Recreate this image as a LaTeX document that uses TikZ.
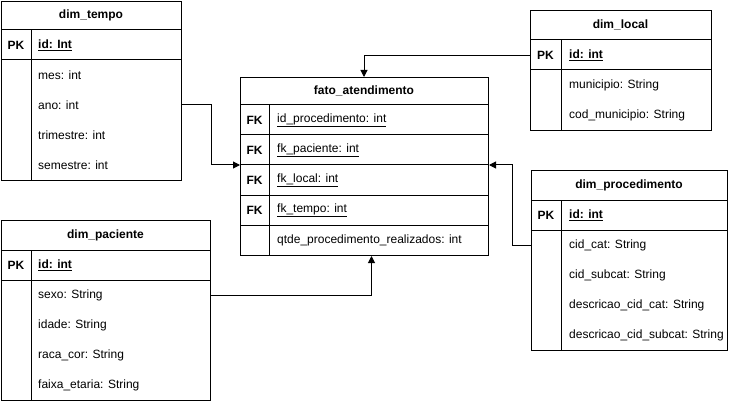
\documentclass[tikz,border=0pt]{standalone}
\usepackage{fontspec}
\setmainfont{Liberation Sans}
\usetikzlibrary{arrows.meta}
\begin{document}
\begin{tikzpicture}[x=1pt,y=-1pt,
  tbl/.style={draw, line width=1pt, inner sep=0pt, anchor=north west},
  sep/.style={line width=1pt},
  ttl/.style={font=\fontsize{12}{14}\selectfont\bfseries, inner sep=0pt},
  keytxt/.style={font=\fontsize{12}{14}\selectfont\bfseries, inner sep=0pt},
  fld/.style={font=\fontsize{12}{14}\selectfont, anchor=west, inner sep=0pt},
  conn/.style={line width=1pt, -{Triangle[length=7pt,width=7pt]}}]
\useasboundingbox (0,0) rectangle (731,401);

% ---------- dim_tempo ----------
\node[tbl, minimum width=180pt, minimum height=179pt] (tempo) at (1,1) {};
\draw[sep] (1,30) -- (181,30);
\draw[sep] (1,60) -- (181,60);
\draw[sep] (31,30) -- (31,180);
\node[ttl] (ttempo) at (91,15.5) {dim\_tempo};
\node[keytxt] (tpk) at (16,45.5) {PK};
\node[fld, font=\fontsize{12}{14}\selectfont\bfseries] (tid) at (38,45.5) {\underline{id: Int}};
\node[fld] (tmes) at (38,75) {mes: int};
\node[fld] (tano) at (38,105) {ano: int};
\node[fld] (ttri) at (38,135) {trimestre: int};
\node[fld] (tsem) at (38,165) {semestre: int};

% ---------- fato_atendimento ----------
\node[tbl, minimum width=248pt, minimum height=178pt] (fato) at (240,77) {};
\foreach \yy in {105,135,165,195,225} \draw[sep] (240,\yy) -- (488,\yy);
\draw[sep] (269,105) -- (269,255);
\node[ttl] (tfato) at (364,91) {fato\_atendimento};
\node[keytxt] (fk1) at (254.5,120.5) {FK};
\node[keytxt] (fk2) at (254.5,150.5) {FK};
\node[keytxt] (fk3) at (254.5,180.5) {FK};
\node[keytxt] (fk4) at (254.5,210.5) {FK};
\node[fld] (fproc) at (277,120.5) {\underline{id\_procedimento: int}};
\node[fld] (fpac) at (277,150.5) {\underline{fk\_paciente: int}};
\node[fld] (floc) at (277,180.5) {\underline{fk\_local: int}};
\node[fld] (ftemp) at (277,210.5) {\underline{fk\_tempo: int}};
\node[fld] (fqtde) at (277,240.5) {qtde\_procedimento\_realizados: int};
\coordinate (fmid) at (364,165);

% ---------- dim_local ----------
\node[tbl, minimum width=181pt, minimum height=120pt] (local) at (530,10) {};
\draw[sep] (530,40) -- (711,40);
\draw[sep] (530,70) -- (711,70);
\draw[sep] (561,40) -- (561,130);
\node[ttl] (tlocal) at (620.5,25) {dim\_local};
\node[keytxt] (lpk) at (545.5,55.5) {PK};
\node[fld, font=\fontsize{12}{14}\selectfont\bfseries] (lid) at (569,55.5) {\underline{id: int}};
\node[fld] (lmun) at (569,85) {municipio: String};
\node[fld] (lcod) at (569,115) {cod\_municipio: String};

% ---------- dim_procedimento ----------
\node[tbl, minimum width=196pt, minimum height=180pt] (proc) at (531,170) {};
\draw[sep] (531,200) -- (727,200);
\draw[sep] (531,230) -- (727,230);
\draw[sep] (561,200) -- (561,350);
\node[ttl] (tproc) at (629,185) {dim\_procedimento};
\node[keytxt] (ppk) at (546,215.5) {PK};
\node[fld, font=\fontsize{12}{14}\selectfont\bfseries] (pid) at (569,215.5) {\underline{id: int}};
\node[fld] (pcat) at (569,245) {cid\_cat: String};
\node[fld] (psub) at (569,275) {cid\_subcat: String};
\node[fld] (pdcat) at (569,305) {descricao\_cid\_cat: String};
\node[fld] (pdsub) at (569,335) {descricao\_cid\_subcat: String};

% ---------- dim_paciente ----------
\node[tbl, minimum width=209pt, minimum height=180pt] (pac) at (1,220) {};
\draw[sep] (1,250) -- (210,250);
\draw[sep] (1,280) -- (210,280);
\draw[sep] (31,250) -- (31,400);
\node[ttl] (tpac) at (105.5,235) {dim\_paciente};
\node[keytxt] (apk) at (16,265.5) {PK};
\node[fld, font=\fontsize{12}{14}\selectfont\bfseries] (aid) at (38,265.5) {\underline{id: int}};
\node[fld] (asex) at (38,295) {sexo: String};
\node[fld] (aida) at (38,325) {idade: String};
\node[fld] (araca) at (38,355) {raca\_cor: String};
\node[fld] (afaixa) at (38,385) {faixa\_etaria: String};

% ---------- connectors ----------
\draw[conn] (tempo.east |- tano) -- ++(29,0) |- (fato.west |- fmid);
\draw[conn] (local.west |- lid) -| ([xshift=0pt]fato.north -| fmid);
\draw[conn] (proc.west |- pcat) -- ++(-19,0) |- (fato.east |- fmid);
\draw[conn] (pac.east |- asex) -| ([xshift=7pt]fato.south);
\end{tikzpicture}
\end{document}
